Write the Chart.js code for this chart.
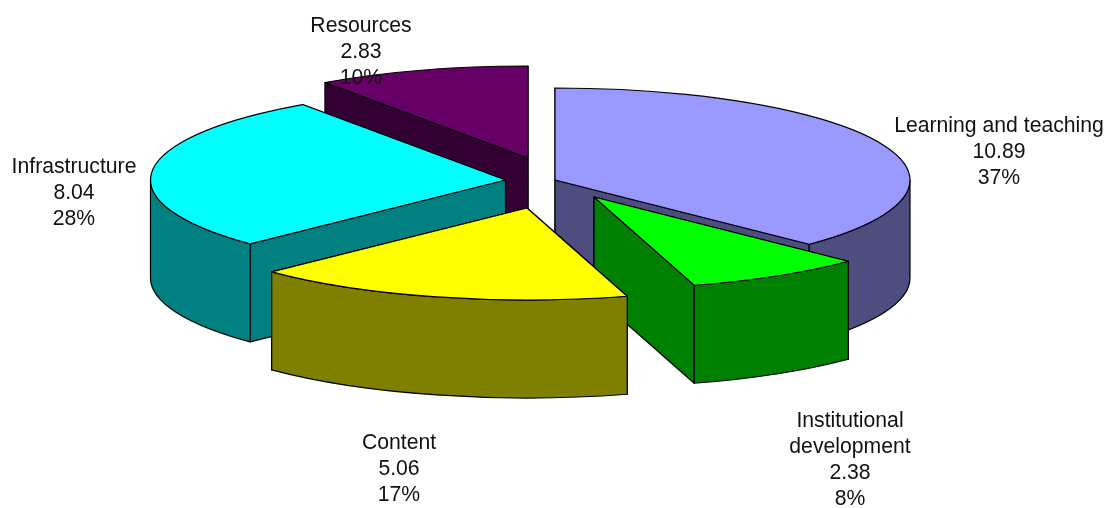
<!DOCTYPE html>
<html>
<head>
<meta charset="utf-8">
<style>
  html, body { margin: 0; padding: 0; background: #fff; }
  #wrap { width: 1108px; height: 508px; }
</style>
<script src="https://cdn.jsdelivr.net/npm/chart.js@4/dist/chart.umd.js"></script>
</head>
<body>
<div id="wrap"><canvas id="chart" width="1108" height="508"></canvas></div>
<script>
// Chart values, in pie order (clockwise from 12 o'clock)
const categories = [
    ['Learning and teaching'],
    ['Institutional', 'development'],
    ['Content'],
    ['Infrastructure'],
    ['Resources']
];
const values = [10.89, 2.38, 5.06, 8.04, 2.83];
const percents = ['37%', '8%', '17%', '28%', '10%'];

const topColors = ['#9999ff', '#00ff00', '#ffff00', '#00ffff', '#660066'];
const sideColors = ['#4d4d80', '#008000', '#808000', '#008080', '#330033'];

// How the flat pie from Chart.js is laid down in 3D
const SCALE_X = 355 / 254;
const SCALE_Y = 92 / 254;
const DEPTH = 98;
const EXPLODE = [[1, -74], [40, -57], [-27, -46], [-48.5, -74], [-26, -96]];
const PAINT_ORDER = [4, 3, 0, 1, 2]; // back to front
const LABEL_AT = [[999, 126], [850, 421], [399, 443], [74, 167], [361, 26]];
const LINE_HEIGHT = 26;

function tracePoint(ctx, x, y) {
    ctx.lineTo(x, y);
}

function fillAndStroke(ctx, color) {
    ctx.fillStyle = color;
    ctx.fill();
    ctx.stroke();
}

/**
 * Draws one radial side wall, from the apex out to the rim at a given angle.
 */
function drawRadialWall(ctx, cx, cy, rx, ry, angle, color) {
    const px = cx + rx * Math.cos(angle);
    const py = cy + ry * Math.sin(angle);
    ctx.beginPath();
    ctx.moveTo(cx, cy);
    tracePoint(ctx, px, py);
    tracePoint(ctx, px, py + DEPTH);
    tracePoint(ctx, cx, cy + DEPTH);
    ctx.closePath();
    fillAndStroke(ctx, color);
}

/**
 * Draws the part of the curved outer wall that faces the viewer.
 */
function drawOuterWall(ctx, cx, cy, rx, ry, start, end, color) {
    const ranges = [[0, Math.PI], [2 * Math.PI, 3 * Math.PI]];
    ranges.forEach(([lo, hi]) => {
        const a0 = Math.max(start, lo);
        const a1 = Math.min(end, hi);
        if (a1 <= a0) {
            return;
        }
        ctx.beginPath();
        ctx.ellipse(cx, cy, rx, ry, 0, a0, a1);
        ctx.ellipse(cx, cy + DEPTH, rx, ry, 0, a1, a0, true);
        ctx.closePath();
        fillAndStroke(ctx, color);
    });
}

function drawSlice(ctx, arc, index) {
    const [dx, dy] = EXPLODE[index];
    const cx = arc.x + dx;
    const cy = arc.y + dy;
    const rx = arc.outerRadius * SCALE_X;
    const ry = arc.outerRadius * SCALE_Y;
    // Normalise so that the front half of the pie is 0..PI
    let start = arc.startAngle;
    let end = arc.endAngle;
    if (start < 0) {
        start += 2 * Math.PI;
        end += 2 * Math.PI;
    }
    const side = sideColors[index];

    // Radial walls: the one that faces away goes first
    const walls = [
        { angle: start, facing: Math.sin(start - Math.PI / 2) },
        { angle: end, facing: Math.sin(end + Math.PI / 2) }
    ];
    walls.sort((a, b) => a.facing - b.facing);
    walls.forEach(w => drawRadialWall(ctx, cx, cy, rx, ry, w.angle, side));

    drawOuterWall(ctx, cx, cy, rx, ry, start, end, side);

    ctx.beginPath();
    ctx.moveTo(cx, cy);
    ctx.ellipse(cx, cy, rx, ry, 0, start, end);
    ctx.closePath();
    fillAndStroke(ctx, arc.options.backgroundColor);
}

const pie3d = {
    id: 'pie3d',
    beforeDatasetsDraw(chart) {
        const ctx = chart.ctx;
        const arcs = chart.getDatasetMeta(0).data;
        ctx.save();
        ctx.strokeStyle = '#000';
        ctx.lineWidth = 1.2;
        ctx.lineJoin = 'round';
        PAINT_ORDER.forEach(i => drawSlice(ctx, arcs[i], i));
        ctx.restore();
        return false; // the flat arcs are replaced by the 3D ones
    }
};

const sliceLabels = {
    id: 'sliceLabels',
    afterDraw(chart) {
        const ctx = chart.ctx;
        ctx.save();
        ctx.fillStyle = '#111';
        ctx.font = '21.2px "Liberation Sans", Arial, sans-serif';
        ctx.textAlign = 'center';
        ctx.textBaseline = 'middle';
        categories.forEach((name, i) => {
            const lines = [...name, values[i].toFixed(2), percents[i]];
            lines.forEach((line, n) => {
                ctx.fillText(line, LABEL_AT[i][0], LABEL_AT[i][1] + n * LINE_HEIGHT);
            });
        });
        ctx.restore();
    }
};

new Chart(document.getElementById('chart').getContext('2d'), {
    type: 'pie',
    data: {
        labels: categories.map(name => name.join(' ')),
        datasets: [{
            data: values,
            backgroundColor: topColors,
            borderWidth: 0
        }]
    },
    options: {
        responsive: false,
        animation: false,
        plugins: {
            legend: { display: false },
            tooltip: { enabled: false }
        }
    },
    plugins: [pie3d, sliceLabels]
});
</script>
</body>
</html>
